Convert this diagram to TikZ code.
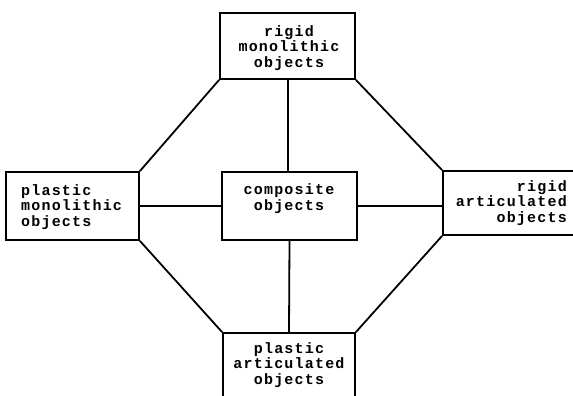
\documentclass[tikz,border=0pt]{standalone}
\usepackage{fontspec}
\setmonofont[LetterSpace=8]{Liberation Mono}
\begin{document}
\begin{tikzpicture}[x=1pt,y=-1pt,
  box/.style={draw,line width=1.8pt,rectangle,inner sep=0pt},
  lbl/.style={font=\ttfamily\bfseries\fontsize{15}{15.5}\selectfont,inner sep=0pt},
  conn/.style={line width=1.8pt}]
\useasboundingbox (0,0) rectangle (573,396);
\node[box,minimum width=135pt,minimum height=66pt] (top) at (287.5,46) {};
\node[box,minimum width=133pt,minimum height=68pt] (left) at (72.5,206) {};
\node[box,minimum width=135pt,minimum height=68pt] (center) at (289.5,206) {};
\node[box,minimum width=142pt,minimum height=64pt] (right) at (514,203) {};
\node[box,minimum width=132pt,minimum height=72pt] (bottom) at (289,369) {};
\node[lbl,align=center] (ttop) at (289,48) {rigid\\monolithic\\objects};
\node[lbl,align=left,anchor=west] (tleft) at (21,207) {plastic\\monolithic\\objects};
\node[lbl,align=center] (tcenter) at (289,198.5) {composite\\objects};
\node[lbl,align=right,anchor=east] (tright) at (567,203) {rigid\\articulated\\objects};
\node[lbl,align=center] (tbottom) at (289,365) {plastic\\articulated\\objects};
\draw[conn] (top.south west) -- (left.north east);
\draw[conn] (top.south east) -- (right.north west);
\draw[conn] (left.south east) -- (bottom.north west);
\draw[conn] (right.south west) -- (bottom.north east);
\draw[conn] ([xshift=0.5pt]top.south) -- ([xshift=-1.5pt]center.north);
\draw[conn] (center.south) -- (bottom.north);
\draw[conn] (left.east) -- (center.west);
\draw[conn] (center.east) -- (center.east -| right.west);
\end{tikzpicture}
\end{document}
